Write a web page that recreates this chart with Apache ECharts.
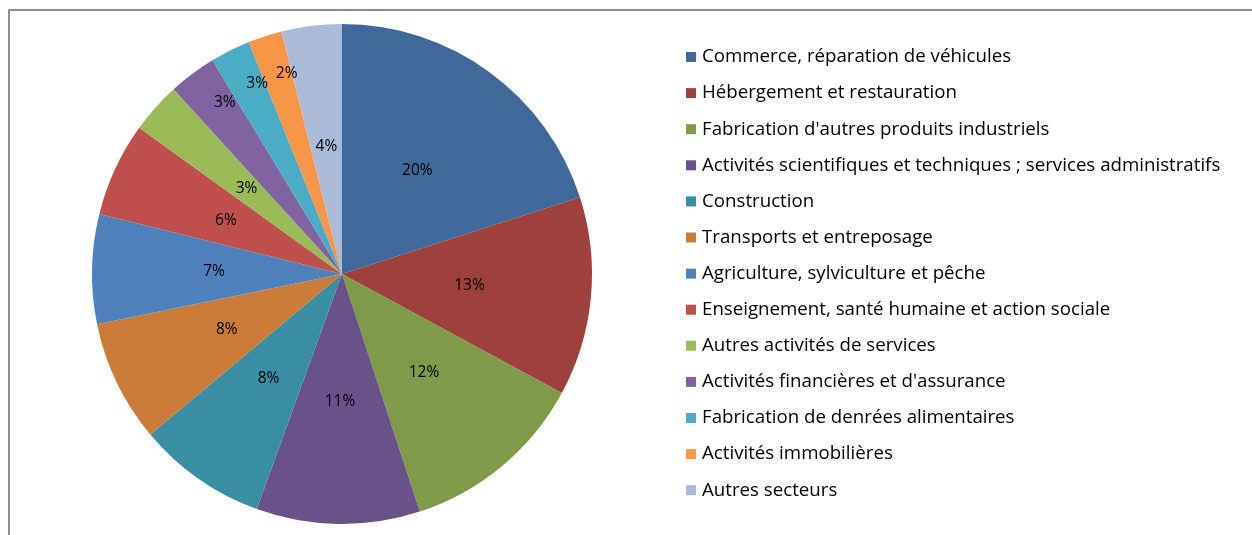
<!DOCTYPE html>
<html>
<head>
<meta charset="utf-8">
<script src="https://cdn.jsdelivr.net/npm/echarts@6/dist/echarts.min.js"></script>
<style>
  html, body { margin: 0; padding: 0; background: #ffffff; }
  #chart { width: 1252px; height: 535px; }
</style>
</head>
<body>
<div id="chart"></div>
<script>
// Sectors, in drawing order (clockwise from 12 o'clock)
const sectors = [
  "Commerce, réparation de véhicules",
  "Hébergement et restauration",
  "Fabrication d'autres produits industriels",
  "Activités scientifiques et techniques ; services administratifs",
  "Construction",
  "Transports et entreposage",
  "Agriculture, sylviculture et pêche",
  "Enseignement, santé humaine et action sociale",
  "Autres activités de services",
  "Activités financières et d'assurance",
  "Fabrication de denrées alimentaires",
  "Activités immobilières",
  "Autres secteurs"
];

// Share of each sector (%)
const shares = [20.1, 12.9, 12.1, 10.6, 8.4, 7.9, 7.1, 6.1, 3.3, 3.1, 2.6, 2.2, 3.9];

const colors = [
  "#3f699b", "#9e413e", "#7f9a48", "#69518a", "#3a8fa4", "#cb7b38",
  "#4f81bd", "#c0504d", "#9bbb59", "#8064a2", "#4bacc6", "#f79646", "#aabad7"
];

// Narrow slices whose label sits nearer the rim
const rimLabelled = [
  "Activités financières et d'assurance",
  "Fabrication de denrées alimentaires",
  "Activités immobilières"
];

const FONT = "Open Sans";
const pctLabel = p => Math.round(p.percent) + "%";

const chart = echarts.init(document.getElementById("chart"), null, { renderer: "canvas" });

chart.setOption({
  animation: false,
  backgroundColor: "#ffffff",
  color: colors,
  graphic: [{
    type: "rect",
    silent: true,
    shape: { x: 9, y: 10, width: 1300, height: 600 },
    style: { fill: "none", stroke: "#8c8c8c", lineWidth: 2 }
  }],
  legend: {
    orient: "vertical",
    left: 681,
    top: 41,
    icon: "rect",
    itemWidth: 10,
    itemHeight: 10,
    itemGap: 14.1,
    selectedMode: false,
    data: sectors,
    textStyle: {
      fontFamily: FONT,
      fontSize: 18.7,
      lineHeight: 22,
      color: "#000000",
      padding: [0, 0, 0, 1]
    }
  },
  series: [
    {
      type: "pie",
      center: [342, 274],
      radius: [0, 250],
      startAngle: 90,
      clockwise: true,
      silent: true,
      avoidLabelOverlap: false,
      itemStyle: { borderWidth: 0 },
      label: {
        position: "inside",
        formatter: pctLabel,
        fontFamily: FONT,
        fontSize: 15.5,
        color: "#000000",
        padding: [6, 0, 0, 0]
      },
      labelLine: { show: false },
      data: sectors.map((name, i) => ({
        name,
        value: shares[i],
        itemStyle: { color: colors[i] },
        label: { show: !rimLabelled.includes(name) }
      }))
    },
    {
      // transparent ring carrying the labels of the narrow slices
      type: "pie",
      center: [342, 274],
      radius: [160, 250],
      startAngle: 87.5,
      clockwise: true,
      silent: true,
      avoidLabelOverlap: false,
      itemStyle: { color: "rgba(0,0,0,0)", borderWidth: 0 },
      label: {
        position: "inside",
        formatter: pctLabel,
        fontFamily: FONT,
        fontSize: 15.5,
        color: "#000000"
      },
      labelLine: { show: false },
      data: sectors.map((name, i) => ({
        name,
        value: shares[i],
        label: { show: rimLabelled.includes(name) }
      }))
    }
  ]
});
</script>
</body>
</html>
